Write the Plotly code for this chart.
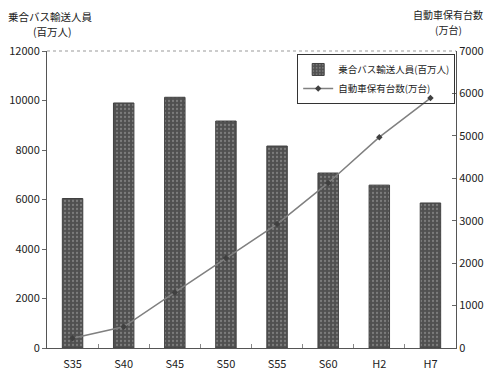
import plotly.graph_objects as go

categories = ["S35", "S40", "S45", "S50", "S55", "S60", "H2", "H7"]
bus_passengers = [6040, 9900, 10130, 9170, 8160, 7070, 6580, 5860]
car_ownership = [230, 500, 1310, 2120, 2920, 3890, 4970, 5890]
left_ticks = [0, 2000, 4000, 6000, 8000, 10000, 12000]
left_ticktext = ["0", "2000", "4000", "6000", "8000", "10000", "12000"]
right_ticks = [0, 1000, 2000, 3000, 4000, 5000, 6000, 7000]
right_ticktext = ["0", "1000", "2000", "3000", "4000", "5000", "6000", "7000"]

FONT = "Noto Sans CJK JP"

fig = go.Figure()
fig.add_trace(go.Bar(
    x=categories, y=bus_passengers, name="乗合バス輸送人員(百万人)",
    width=0.4,
    marker=dict(
        color="#505050",
        line=dict(color="#404040", width=1),
        pattern=dict(shape=".", bgcolor="#505050", fgcolor="#a8a8a8", size=4, solidity=0.25),
    ),
    yaxis="y",
))
fig.add_trace(go.Scatter(
    x=categories, y=car_ownership, name="自動車保有台数(万台)",
    mode="lines+markers",
    line=dict(color="#808080", width=1.5),
    marker=dict(symbol="diamond", size=5, color="#404040"),
    yaxis="y2",
))

fig.update_layout(
    width=492, height=375,
    margin=dict(l=47, r=36, t=51, b=27),
    paper_bgcolor="white", plot_bgcolor="white",
    font=dict(family=FONT, size=11, color="#222222"),
    showlegend=True,
    legend=dict(
        x=0.998, y=0.99, xanchor="right", yanchor="top",
        bordercolor="#333333", borderwidth=1, bgcolor="rgba(255,255,255,0)",
        font=dict(size=9.5, family=FONT),
        tracegroupgap=0, itemwidth=30,
    ),
    xaxis=dict(
        type="category", tickson="boundaries", ticks="inside", ticklen=4,
        tickcolor="#888888", showline=True, linecolor="#555555", linewidth=1,
        showgrid=False, tickfont=dict(size=11), ticklabelstandoff=6,
        automargin=False,
    ),
    yaxis=dict(
        range=[0, 12000], tickvals=left_ticks, ticktext=left_ticktext,
        ticks="outside", ticklen=4,
        tickcolor="#666666", showline=True, linecolor="#555555", linewidth=1,
        showgrid=False, zeroline=False, tickfont=dict(size=11), automargin=False,
    ),
    yaxis2=dict(
        range=[0, 7000], tickvals=right_ticks, ticktext=right_ticktext,
        overlaying="y", side="right",
        ticks="inside", ticklen=4, tickcolor="#666666",
        showline=True, linecolor="#555555", linewidth=1,
        showgrid=False, zeroline=False, tickfont=dict(size=11), automargin=False,
    ),
    shapes=[dict(type="line", xref="paper", yref="paper", x0=0, x1=1, y0=1, y1=1,
                 line=dict(color="#999999", width=1, dash="dot"))],
    annotations=[
        dict(text="乗合バス輸送人員", xref="paper", yref="paper",
             x=0.0, y=1.0, xshift=3, yshift=35, xanchor="center", yanchor="middle",
             showarrow=False, font=dict(size=10.5)),
        dict(text="(百万人)", xref="paper", yref="paper",
             x=0.0, y=1.0, xshift=5, yshift=20, xanchor="center", yanchor="middle",
             showarrow=False, font=dict(size=10.5)),
        dict(text="自動車保有台数", xref="paper", yref="paper",
             x=1.0, y=1.0, xshift=-8, yshift=37, xanchor="center", yanchor="middle",
             showarrow=False, font=dict(size=10)),
        dict(text="(万台)", xref="paper", yref="paper",
             x=1.0, y=1.0, xshift=-8, yshift=22, xanchor="center", yanchor="middle",
             showarrow=False, font=dict(size=10)),
    ],
)

fig.write_html("out.html")
